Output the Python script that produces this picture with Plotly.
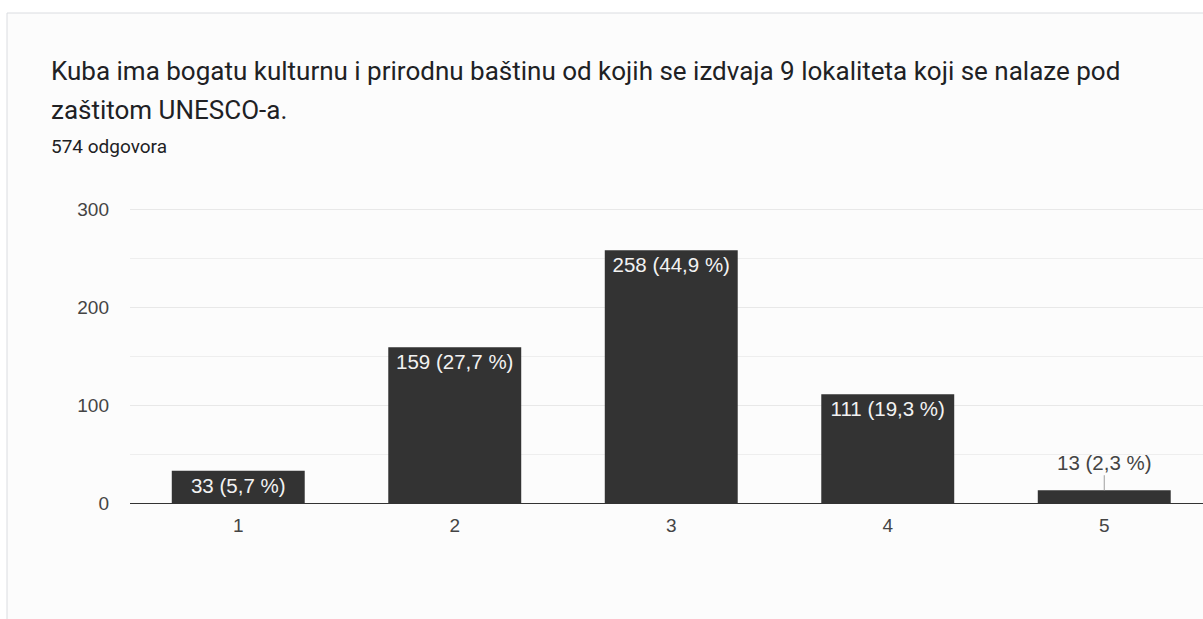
import plotly.graph_objects as go

categories = ["1", "2", "3", "4", "5"]
counts = [33, 159, 258, 111, 13]
percents = ["5,7", "27,7", "44,9", "19,3", "2,3"]
y_ticks = [0, 100, 200, 300]

title_line1 = "Kuba ima bogatu kulturnu i prirodnu baštinu od kojih se izdvaja 9 lokaliteta koji se nalaze pod"
title_line2 = "zaštitom UNESCO-a."
subtitle = "574 odgovora"

labels = [f"{c} ({p} %)" for c, p in zip(counts, percents)]
inside_text = [lab if c >= 30 else "" for lab, c in zip(labels, counts)]

W, H = 1203, 619
L, R, T, B = 130, 0, 207, 116
pw, ph = W - L - R, H - T - B

def px_x(x):
    return (x - L) / pw

def px_y(y):
    return (H - B - y) / ph

FONT = "Roboto, Arial, sans-serif"
CFONT = "Arial, 'Liberation Sans', sans-serif"

fig = go.Figure()
fig.add_trace(go.Bar(
    x=categories, y=counts,
    marker=dict(color="#333333", line=dict(width=0)),
    text=inside_text, textposition="inside", insidetextanchor="end",
    textangle=0,
    textfont=dict(family=CFONT, size=20.5, color="#f2f2f2"),
    hoverinfo="skip",
))

annotations = [
    dict(xref="paper", yref="paper", x=px_x(49), y=px_y(71), text=title_line1,
         showarrow=False, xanchor="left", yanchor="middle",
         font=dict(family=FONT, size=26, color="#202124")),
    dict(xref="paper", yref="paper", x=px_x(49), y=px_y(110), text=title_line2,
         showarrow=False, xanchor="left", yanchor="middle",
         font=dict(family=FONT, size=26, color="#202124")),
    dict(xref="paper", yref="paper", x=px_x(49), y=px_y(146), text=subtitle,
         showarrow=False, xanchor="left", yanchor="middle",
         font=dict(family=FONT, size=19, color="#202124")),
]
for i, (c, lab) in enumerate(zip(counts, labels)):
    if c < 30:
        annotations.append(dict(
            x=i, y=c, xref="x", yref="y", text=lab, showarrow=True,
            arrowhead=0, arrowwidth=1, arrowcolor="#9e9e9e", ax=0, ay=-28,
            font=dict(family=CFONT, size=20.5, color="#444444")))

fig.update_layout(
    width=W, height=H,
    margin=dict(l=L, r=R, t=T, b=B, pad=0),
    paper_bgcolor="#ffffff", plot_bgcolor="rgba(0,0,0,0)",
    showlegend=False, bargap=0.386,
    font=dict(family=CFONT, size=19, color="#444444"),
    annotations=annotations,
    shapes=[dict(type="rect", xref="paper", yref="paper",
                 x0=px_x(7), x1=1.3, y0=px_y(13), y1=-1.2,
                 line=dict(color="#dadce0", width=1), fillcolor="#fcfcfc",
                 layer="below")],
)
fig.update_xaxes(type="category", range=[-0.5, -0.5 + pw / 216.5], showgrid=False, ticks="",
                 showline=False, zeroline=False, ticklabelstandoff=9,
                 tickfont=dict(family=CFONT, size=19, color="#444444"),
                 fixedrange=True)
fig.update_yaxes(range=[0, ph / 0.98], tickvals=y_ticks, showgrid=True,
                 gridcolor="#e8e8e8", gridwidth=1, zeroline=True,
                 zerolinecolor="#333333", zerolinewidth=1.3,
                 minor=dict(dtick=50, showgrid=True, gridcolor="#eeeeee"),
                 ticks="", ticklabelstandoff=20,
                 tickfont=dict(family=CFONT, size=19, color="#444444"),
                 fixedrange=True)

fig.write_html("out.html", config={"displayModeBar": False},
               post_script="document.body.style.margin='0';document.body.style.overflow='hidden';")
